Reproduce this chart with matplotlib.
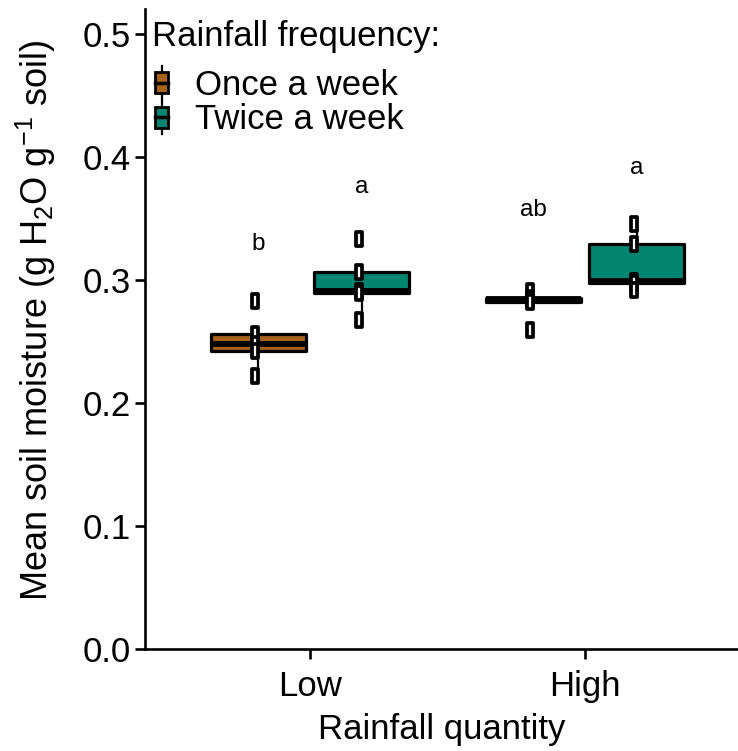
import matplotlib
matplotlib.use("Agg")
import matplotlib.pyplot as plt
from matplotlib.path import Path
from matplotlib.patches import Rectangle, Patch
from matplotlib.lines import Line2D
from matplotlib.legend_handler import HandlerBase

plt.rcParams['font.family'] = ['Liberation Sans', 'DejaVu Sans']
plt.rcParams['mathtext.fontset'] = 'custom'
plt.rcParams['mathtext.rm'] = 'Liberation Sans'
plt.rcParams['mathtext.it'] = 'Liberation Sans:italic'

# ---- data ----
quantities = ['Low', 'High']
frequencies = ['Once a week', 'Twice a week']
colors = ['#A6611A', '#018571']
low_once = [0.283, 0.256, 0.248, 0.242, 0.2215]
low_twice = [0.333, 0.306, 0.291, 0.289, 0.267]
high_once = [0.291, 0.285, 0.284, 0.282, 0.259]
high_twice = [0.345, 0.329, 0.299, 0.297, 0.292]
letters = ['b', 'a', 'ab', 'a']
letter_y = [0.329, 0.375, 0.357, 0.391]
yticks = [0.0, 0.1, 0.2, 0.3, 0.4, 0.5]

groups = [low_once, low_twice, high_once, high_twice]
group_freq = [0, 1, 0, 1]
group_qty = [0, 0, 1, 1]
dodge = 0.1875
positions = [q + 1 + (dodge if f == 1 else -dodge) for q, f in zip(group_qty, group_freq)]

FS = 25
fig = plt.figure(figsize=(7.38, 7.51), dpi=100)
ax = fig.add_axes([145/738, 102/751, 593/738, 640/751])

bp = ax.boxplot(groups, positions=positions, widths=0.345, whis=1.5,
                showfliers=False, showcaps=False, patch_artist=True,
                boxprops=dict(edgecolor='black', linewidth=2.3),
                medianprops=dict(color='black', linewidth=4.2, solid_capstyle='butt'),
                whiskerprops=dict(color='black', linewidth=1.6))
for patch, f in zip(bp['boxes'], group_freq):
    patch.set_facecolor(colors[f])
    patch.set_joinstyle('round')

rect_marker = Path([(-0.2, -0.5), (0.2, -0.5), (0.2, 0.5), (-0.2, 0.5), (-0.2, -0.5)],
                   [Path.MOVETO, Path.LINETO, Path.LINETO, Path.LINETO, Path.CLOSEPOLY])
for pos, vals in zip(positions, groups):
    ax.plot([pos - 0.011] * len(vals), vals, linestyle='none', marker=rect_marker,
            markersize=9.5, markerfacecolor='white', markeredgecolor='black',
            markeredgewidth=2.7, zorder=5)

for pos, lab, ly in zip(positions, letters, letter_y):
    ax.text(pos, ly, lab, ha='center', va='center', fontsize=17.5)

ax.set_xlim(0.4, 0.4 + 593/275)
ax.set_ylim(0, 0.52)
ax.set_xticks([1, 2])
ax.set_xticklabels(quantities)
ax.set_yticks(yticks)
ax.set_yticklabels([f'{t:.1f}' for t in yticks])
for s in ['top', 'right']:
    ax.spines[s].set_visible(False)
for s in ['left', 'bottom']:
    ax.spines[s].set_linewidth(1.9)
ax.tick_params(axis='both', width=1.9, length=7, labelsize=FS, colors='black')
ax.tick_params(axis='x', pad=8)
ax.tick_params(axis='y', pad=3)
ax.set_xlabel('Rainfall quantity', fontsize=FS, labelpad=7)
ax.set_ylabel(r'Mean soil moisture (g H$_\mathregular{2}$O g$^{\mathregular{-1}}$ soil)',
              fontsize=26)
ax.yaxis.set_label_coords(-0.147, 0.514)


class BoxKeyHandler(HandlerBase):
    def create_artists(self, legend, orig_handle, xdescent, ydescent, width, height,
                       fontsize, trans):
        cx = -xdescent + width / 2
        cy = -ydescent + height / 2
        bw, bh = 10, 15
        wl = Line2D([cx, cx], [cy - 12, cy + 12], color='black', linewidth=1.6, transform=trans)
        rect = Rectangle((cx - bw/2, cy - bh/2), bw, bh, facecolor=orig_handle.get_facecolor(),
                         edgecolor='black', linewidth=2.0, transform=trans)
        med = Line2D([cx - bw/2, cx + bw/2], [cy, cy], color='black', linewidth=2.5,
                     transform=trans)
        return [wl, rect, med]


handles = [Patch(facecolor=c, edgecolor='black', label=l) for c, l in zip(colors, frequencies)]
leg = ax.legend(handles=handles, title='Rainfall frequency:', loc='upper left',
                bbox_to_anchor=(152/738, 1 - 20/751), bbox_transform=fig.transFigure,
                frameon=False, fontsize=FS, title_fontsize=FS, alignment='left',
                handler_map={Patch: BoxKeyHandler()}, handlelength=0.55, handleheight=0.9,
                handletextpad=0.7, labelspacing=0.03, borderpad=0, borderaxespad=0)
leg._legend_box.sep = 11

fig.savefig('out.png', dpi=100)
